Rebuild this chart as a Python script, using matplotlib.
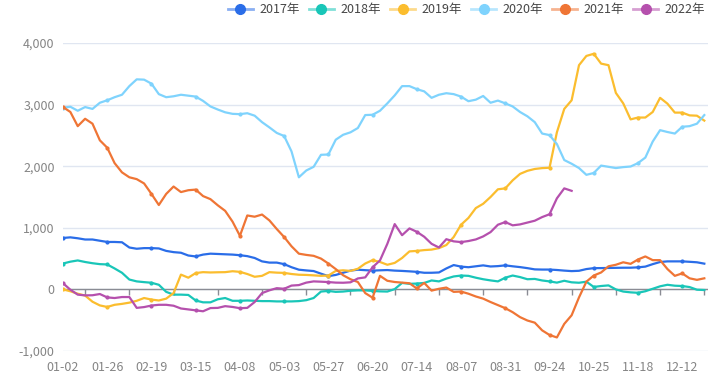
import numpy as np
import matplotlib
matplotlib.use("Agg")
import matplotlib.pyplot as plt
from matplotlib.lines import Line2D

plt.rcParams['font.family'] = ['Noto Sans CJK SC', 'DejaVu Sans']

# category axis: 88 points, a date label every 6th point
n_points = 88
tick_labels = ['01-02', '01-26', '02-19', '03-15', '04-08', '05-03', '05-27', '06-20',
               '07-14', '08-07', '08-31', '09-24', '10-25', '11-18', '12-12']
years = ['2017年', '2018年', '2019年', '2020年', '2021年', '2022年']

v2017 = [835, 845, 830, 810, 810, 790, 770, 770, 765, 680, 660, 670, 670, 665, 625, 605,
         595, 550, 535, 565, 580, 575, 570, 565, 555, 540, 510, 455, 435, 435, 410, 360,
         320, 308, 298, 255, 215, 235, 270, 305, 320, 312, 305, 310, 314, 305, 300, 293,
         285, 270, 270, 275, 340, 395, 370, 360, 375, 390, 372, 378, 390, 375, 362, 345,
         325, 322, 322, 315, 305, 297, 302, 330, 345, 346, 348, 350, 352, 352, 358, 370,
         410, 445, 455, 455, 455, 448, 440, 418]
v2018 = [420, 450, 470, 445, 425, 410, 405, 340, 270, 160, 130, 118, 108, 75, -40, -85,
         -85, -90, -180, -210, -210, -160, -140, -185, -185, -180, -185, -190, -190, -195, -195, -195,
         -190, -175, -140, -35, -25, -40, -35, -22, -16, -16, -25, -32, -35, 5, 105, 90,
         95, 105, 145, 130, 175, 210, 225, 220, 190, 165, 146, 130, 190, 225, 200, 165,
         170, 145, 130, 110, 140, 115, 108, 125, 40, 55, 65, 0, -35, -48, -55, -30,
         10, 50, 75, 60, 55, 38, -5, -10]
v2019 = [0, -30, -70, -100, -200, -260, -285, -250, -235, -215, -185, -140, -165, -180, -150, -60,
         240, 190, 265, 280, 275, 278, 280, 295, 285, 250, 205, 220, 280, 272, 268, 250,
         238, 235, 228, 220, 225, 300, 310, 300, 335, 420, 475, 445, 400, 430, 510, 617,
         625, 638, 646, 670, 720, 850, 1050, 1160, 1320, 1390, 1500, 1625, 1640, 1770, 1875, 1925,
         1955, 1969, 1975, 2550, 2930, 3070, 3640, 3790, 3825, 3665, 3640, 3190, 3020, 2760, 2790, 2790,
         2880, 3110, 3015, 2870, 2870, 2825, 2820, 2740]
v2020 = [2950, 2965, 2900, 2960, 2930, 3030, 3070, 3120, 3160, 3300, 3410, 3405, 3340, 3170, 3120, 3135,
         3160, 3145, 3130, 3060, 2970, 2920, 2875, 2850, 2845, 2860, 2820, 2715, 2630, 2540, 2490, 2240,
         1820, 1930, 1990, 2185, 2190, 2430, 2510, 2550, 2620, 2830, 2835, 2900, 3020, 3150, 3300, 3300,
         3250, 3215, 3110, 3160, 3185, 3170, 3130, 3055, 3080, 3140, 3030, 3065, 3020, 2970, 2880, 2810,
         2715, 2530, 2505, 2360, 2100, 2040, 1970, 1860, 1890, 2010, 1990, 1970, 1985, 1995, 2050, 2140,
         2400, 2585, 2555, 2530, 2640, 2650, 2690, 2830]
v2021 = [2960, 2880, 2650, 2770, 2690, 2420, 2300, 2050, 1900, 1820, 1790, 1720, 1550, 1370, 1550, 1670,
         1580, 1610, 1620, 1515, 1465, 1365, 1275, 1100, 870, 1200, 1180, 1215, 1120, 980, 850, 700,
         580, 560, 545, 500, 420, 330, 230, 165, 120, -60, -135, 220, 140, 120, 110, 100,
         15, 105, -20, 10, 30, -40, -35, -70, -115, -150, -205, -255, -305, -370, -450, -505,
         -540, -665, -740, -780, -560, -420, -130, 125, 225, 275, 375, 400, 440, 415, 485, 535,
         475, 475, 330, 220, 260, 180, 155, 180]
v2022 = [100, -5, -85, -97, -95, -75, -130, -140, -124, -124, -300, -287, -262, -250, -250, -265,
         -310, -325, -340, -355, -303, -300, -272, -285, -305, -300, -205, -60, -15, 20, 10, 62,
         70, 110, 130, 125, 119, 110, 108, 115, 178, 195, 360, 470, 740, 1060, 880, 990,
         935, 855, 740, 680, 815, 780, 768, 785, 811, 860, 930, 1050, 1093, 1040, 1055, 1085,
         1115, 1174, 1220, 1478, 1640, 1600]

colors = ['#2a6de8', '#19c6b8', '#fbbd2e', '#7fd3fd', '#ef7535', '#b550ad']
series = [v2017, v2018, v2019, v2020, v2021, v2022]

fig = plt.figure(figsize=(7.19, 3.78), dpi=100)
ax = fig.add_axes([63 / 719, 1 - 351 / 378, 645 / 719, 308 / 378])

for vals, c in zip(series, colors):
    x = np.arange(len(vals))
    ax.plot(x, vals, color=c, lw=1.6, marker='o', markersize=2, markevery=6,
            solid_joinstyle='round', zorder=3)

# zero axis line with small ticks between labels
ax.axhline(0, color='#8a8c94', lw=1, zorder=2)
ax.vlines(np.arange(3, n_points, 6), -85, 0, color='#8a8c94', lw=1, zorder=2)

ax.set_xlim(0, n_points - 0.5)
ax.set_ylim(-1000, 4000)
ax.set_yticks(np.arange(-1000, 4001, 1000))
ax.set_yticklabels([f'{v:,}' for v in range(-1000, 4001, 1000)])
ax.set_xticks(np.arange(0, n_points, 6))
ax.set_xticklabels(tick_labels)
ax.tick_params(axis='both', length=0, colors='#858585', labelsize=9)
ax.tick_params(axis='x', pad=7)
ax.tick_params(axis='y', pad=6)
ax.grid(axis='y', color='#e0e6f1', lw=1, zorder=0)
ax.set_axisbelow(True)
for s in ax.spines.values():
    s.set_visible(False)

handles = []
for c in colors:
    h = Line2D([], [], color=matplotlib.colors.to_rgba(c, 0.55), lw=2, marker='o',
               markersize=7, markerfacecolor=c, markeredgecolor=c)
    handles.append(h)
leg = fig.legend(handles, years, loc='upper right', bbox_to_anchor=(705 / 719, 1 - 3 / 378),
                 ncol=6, frameon=False, fontsize=9, handlelength=2.0, handletextpad=0.5,
                 columnspacing=0.75, borderpad=0, borderaxespad=0)
for t in leg.get_texts():
    t.set_color('#464646')

fig.savefig('out.png', dpi=100)
